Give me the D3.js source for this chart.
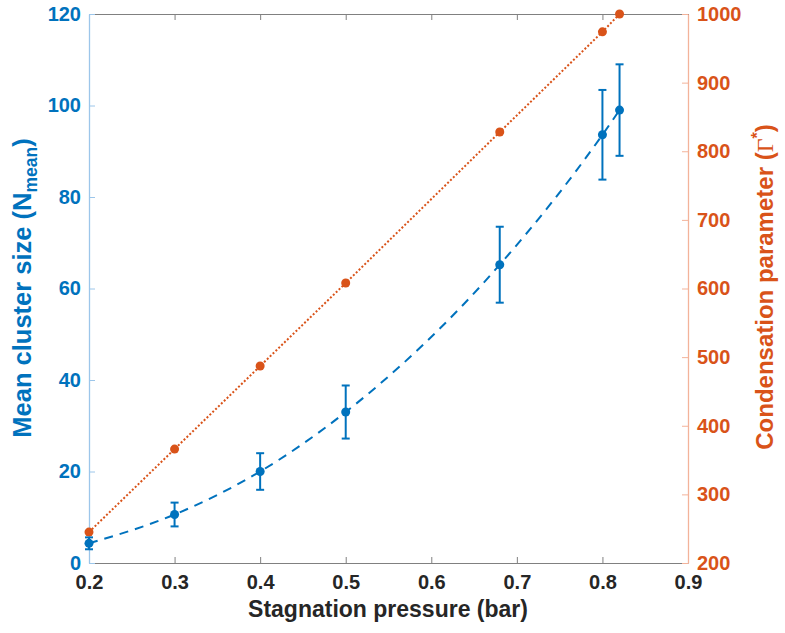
<!DOCTYPE html>
<html><head><meta charset="utf-8">
<script src="https://cdn.jsdelivr.net/npm/d3@7"></script>
<style>body{margin:0;background:#fff;} text{font-family:Arial,"Liberation Sans",sans-serif;font-weight:bold;}</style>
</head><body><svg id="c" width="785" height="633"></svg>
<script>
const pressure = [0.2, 0.3, 0.4, 0.5, 0.68, 0.8, 0.82];
const meanSize = [4.3, 10.6, 20.0, 33.0, 65.2, 93.6, 99.0];
const sizeErr = [1.3, 2.6, 4.0, 5.8, 8.3, 9.8, 10.0];
const gammaStar = [245, 366, 487, 608, 828, 974, 1000];
const xTicks = [0.2, 0.3, 0.4, 0.5, 0.6, 0.7, 0.8, 0.9];
const yLeftTicks = [0, 20, 40, 60, 80, 100, 120];
const yRightTicks = [200, 300, 400, 500, 600, 700, 800, 900, 1000];

const blue = "#0072BD", orange = "#D95319", dark = "#262626";
const L = 89, R = 688, T = 14, B = 563;
const svg = d3.select("#c");
const x = d3.scaleLinear().domain([0.2, 0.9]).range([L, R]);
const yL = d3.scaleLinear().domain([0, 120]).range([B, T]);
const yR = d3.scaleLinear().domain([200, 1000]).range([B, T]);

function styleText(g, color) {
  g.selectAll(".tick text").attr("fill", color).attr("font-size", 20)
    .attr("font-family", "Arial, Liberation Sans, sans-serif").attr("font-weight", "bold");
}

// bottom axis
const ax = svg.append("g").attr("transform", `translate(0,${B})`)
  .call(d3.axisBottom(x).tickValues(xTicks).tickFormat(d3.format(".1f")).tickSizeInner(-6).tickSizeOuter(0).tickPadding(12));
ax.select(".domain").attr("stroke", "#808080").attr("stroke-width", 1);
ax.selectAll(".tick line").attr("stroke", "#808080");
styleText(ax, dark);
// top axis
const at = svg.append("g").attr("transform", `translate(0,${T})`)
  .call(d3.axisTop(x).tickValues(xTicks).tickFormat("").tickSizeInner(-6).tickSizeOuter(0));
at.select(".domain").attr("stroke", "#808080");
at.selectAll(".tick line").attr("stroke", "#808080");

// left axis
const al = svg.append("g").attr("transform", `translate(${L},0)`)
  .call(d3.axisLeft(yL).tickValues(yLeftTicks).tickSizeInner(-6).tickSizeOuter(0).tickPadding(8));
al.select(".domain").attr("stroke", "#9cc6ea").attr("stroke-width", 1.3);
al.selectAll(".tick line").attr("stroke", "#9cc6ea");
styleText(al, blue);

// right axis
const ar = svg.append("g").attr("transform", `translate(${R},0)`)
  .call(d3.axisRight(yR).tickValues(yRightTicks).tickFormat(d3.format("d")).tickSizeInner(-6).tickSizeOuter(0).tickPadding(9));
ar.select(".domain").attr("stroke", "#f3b39a").attr("stroke-width", 1.3);
ar.selectAll(".tick line").attr("stroke", "#f3b39a");
styleText(ar, orange);

// orange dotted line
const dataR = pressure.map((p, i) => ({p, v: gammaStar[i]}));
svg.append("path").datum(dataR)
  .attr("d", d3.line().x(d => x(d.p)).y(d => yR(d.v)))
  .attr("fill", "none").attr("stroke", orange).attr("stroke-width", 2).attr("stroke-dasharray", "2,2");
svg.selectAll(".or").data(dataR).enter().append("circle")
  .attr("cx", d => x(d.p)).attr("cy", d => yR(d.v)).attr("r", 4.5).attr("fill", orange);

// blue dashed curve
const dataL = pressure.map((p, i) => ({p, v: meanSize[i], e: sizeErr[i]}));
svg.append("path").datum(dataL)
  .attr("d", d3.line().x(d => x(d.p)).y(d => yL(d.v)).curve(d3.curveMonotoneX))
  .attr("fill", "none").attr("stroke", blue).attr("stroke-width", 2).attr("stroke-dasharray", "9,7");
// error bars
const eb = svg.selectAll(".eb").data(dataL).enter().append("g");
eb.append("line").attr("x1", d => x(d.p)).attr("x2", d => x(d.p))
  .attr("y1", d => yL(d.v - d.e)).attr("y2", d => yL(d.v + d.e)).attr("stroke", blue).attr("stroke-width", 2);
eb.append("line").attr("x1", d => x(d.p) - 4).attr("x2", d => x(d.p) + 4)
  .attr("y1", d => yL(d.v - d.e)).attr("y2", d => yL(d.v - d.e)).attr("stroke", blue).attr("stroke-width", 2);
eb.append("line").attr("x1", d => x(d.p) - 4).attr("x2", d => x(d.p) + 4)
  .attr("y1", d => yL(d.v + d.e)).attr("y2", d => yL(d.v + d.e)).attr("stroke", blue).attr("stroke-width", 2);
eb.append("circle").attr("cx", d => x(d.p)).attr("cy", d => yL(d.v)).attr("r", 4.5).attr("fill", blue);

// axis titles
svg.append("text").attr("x", 388).attr("y", 617).attr("text-anchor", "middle")
  .attr("fill", dark).attr("font-size", 23).text("Stagnation pressure (bar)");

const lt = svg.append("text").attr("transform", `translate(31,288) rotate(-90)`)
  .attr("text-anchor", "middle").attr("fill", blue).attr("font-size", 25.5);
lt.append("tspan").text("Mean cluster size (N");
lt.append("tspan").attr("font-size", 17.5).attr("dy", 6).text("mean");
lt.append("tspan").attr("dy", -6).text(")");

const rt = svg.append("text").attr("transform", `translate(773,287) rotate(-90)`)
  .attr("text-anchor", "middle").attr("fill", orange).attr("font-size", 24);
rt.append("tspan").text("Condensation parameter (");
rt.append("tspan").attr("font-family", "Liberation Serif, Times New Roman, serif").attr("font-weight", "normal").text("Γ");
rt.append("tspan").attr("font-size", 16).attr("dy", -10).text("*");
rt.append("tspan").attr("dy", 10).text(")");
</script>
</body></html>
